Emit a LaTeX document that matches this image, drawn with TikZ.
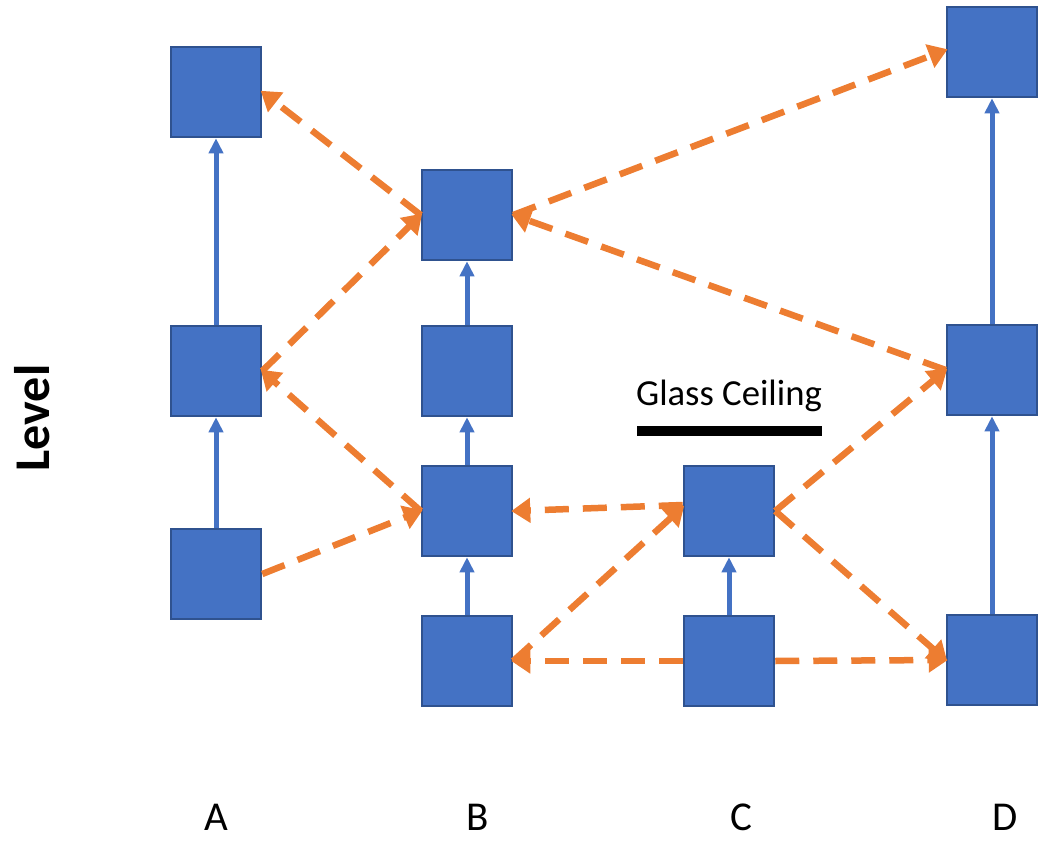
\documentclass[tikz,border=0pt]{standalone}
\usepackage{fontspec}
\setmainfont{Carlito}
\usetikzlibrary{arrows.meta}
\definecolor{boxblue}{HTML}{4472C4}
\definecolor{boxedge}{HTML}{2F528F}
\definecolor{orng}{HTML}{ED7D31}
\tikzset{
  sq/.style={rectangle, draw=boxedge, fill=boxblue, line width=2.5pt, minimum width=90pt, minimum height=90pt, inner sep=0pt},
  up/.style={draw=boxblue, line width=5pt, -{Triangle[length=15pt,width=14pt]}},
  mv/.style={draw=orng, line width=6.5pt, dash pattern=on 24pt off 14pt, -{Triangle[length=19pt,width=24pt]}, shorten >=-2pt},
  lbl/.style={font=\fontsize{36.7}{44}\selectfont, inner sep=0pt},
  axl/.style={font=\fontsize{41}{46}\selectfont, inner sep=0pt, text depth=0pt, anchor=base}
}
\begin{document}
\begin{tikzpicture}[x=1pt,y=-1pt]
\useasboundingbox (0,0) rectangle (1042,843);
\node[sq] (A1) at (216,92) {};
\node[sq] (A2) at (216,371) {};
\node[sq] (A3) at (216,574) {};
\node[sq] (B1) at (467,215) {};
\node[sq] (B2) at (467,371) {};
\node[sq] (B3) at (467,511) {};
\node[sq] (B4) at (467,661) {};
\node[sq] (C1) at (729,511) {};
\node[sq] (C2) at (729,661) {};
\node[sq] (D1) at (992,52) {};
\node[sq] (D2) at (992,370) {};
\node[sq] (D3) at (992,660) {};
% vertical progressions
\draw[up] (A3) -- (A2);
\draw[up] (A2) -- (A1);
\draw[up] (B4) -- (B3);
\draw[up] (B3) -- (B2);
\draw[up] (B2) -- (B1);
\draw[up] (C2) -- (C1);
\draw[up] (D3) -- (D2);
\draw[up] (D2) -- (D1);
% moves
\draw[mv] (B1.west) -- (A1.east);
\draw[mv] (A2.east) -- (B1.west);
\draw[mv] (B3.west) -- (A2.east);
\draw[mv] (A3.east) -- (B3.west);
\draw[mv] ([yshift=6pt]C1.west) -- (B3.east);
\draw[mv] (D2.west) -- (B1.east);
\draw[mv] (B1.east) -- ([yshift=2pt]D1.west);
\draw[mv] (C1.east) -- (D2.west);
\draw[mv] (C1.east) -- (D3.west);
\draw[mv] (C2.west) -- (B4.east);
\draw[mv] (C2.east) -- (D3.west);
\draw[mv] (B4.east) -- ([yshift=4pt]C1.west);
% glass ceiling
\coordinate (g1) at (637,431);
\coordinate (g2) at (822,431);
\draw[line width=10pt, black] (g1) -- (g2);
\node[lbl] (gc) at (729,396) {Glass Ceiling};
% axis labels
\node[axl] (la) at (216,830) {A};
\node[axl] (lb) at (478,830) {B};
\node[axl] (lc) at (741,830) {C};
\node[axl] (ld) at (1005,830) {D};
\node[font=\fontsize{50}{60}\selectfont\bfseries, rotate=90, inner sep=0pt] (lev) at (32,418) {Level};
\end{tikzpicture}
\end{document}
